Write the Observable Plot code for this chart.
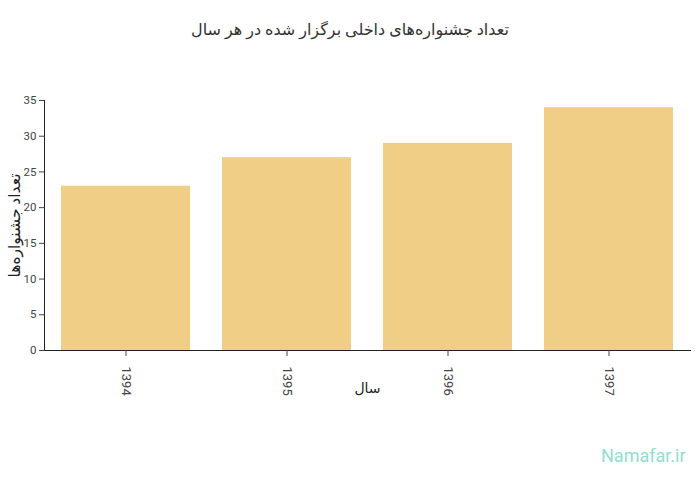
<!DOCTYPE html>
<html>
<head>
<meta charset="utf-8">
<script src="https://cdn.jsdelivr.net/npm/d3@7"></script>
<script src="https://cdn.jsdelivr.net/npm/@observablehq/plot@0.6"></script>
<style>
  body { margin: 0; background: #fff; font-family: Roboto, "DejaVu Sans", sans-serif; }
  #wrap { position: relative; width: 700px; height: 500px; }
  #title { position: absolute; top: 20px; left: 0; width: 700px; text-align: center; font-size: 16px; color: #333; direction: rtl; }
  #wm { position: absolute; left: 601px; top: 445px; font-size: 18px; color: #8fe0d1; font-family: Roboto, sans-serif; }
</style>
</head>
<body>
<div id="wrap">
  <div id="title">تعداد جشنواره‌های داخلی برگزار شده در هر سال</div>
  <div id="chart"></div>
  <div id="wm">Namafar.ir</div>
</div>
<script>
const years = ["1394", "1395", "1396", "1397"];
const counts = [23, 27, 29, 34];
const yTicks = [0, 5, 10, 15, 20, 25, 30, 35];
const xLabel = "سال";
const yLabel = "تعداد جشنواره‌ها";

const data = years.map((y, i) => ({year: y, count: counts[i]}));

const chart = Plot.plot({
  width: 700,
  height: 500,
  marginTop: 100,
  marginBottom: 150,
  marginLeft: 44,
  marginRight: 10,
  style: {fontFamily: "Roboto, 'DejaVu Sans', sans-serif", fontSize: "11px", color: "#444", background: "transparent"},
  x: {domain: years, paddingInner: 0.2, paddingOuter: 0.1},
  y: {domain: [0, 35]},
  marks: [
    Plot.barY(data, {x: "year", y: "count", fill: "#f0ce86"}),
    Plot.frame({anchor: "left", stroke: "#222"}),
    Plot.frame({anchor: "bottom", stroke: "#222"}),
    Plot.axisY({ticks: yTicks, tickSize: 5, tickPadding: 3, label: yLabel, labelAnchor: "center", labelArrow: "none", labelOffset: 36, fontSize: 11.5, color: "#444"}),
    Plot.axisX({tickSize: 6, tickRotate: 90, tickPadding: 10, fontSize: 13, label: null}),
    Plot.text([xLabel], {frameAnchor: "bottom", dy: 42, fontSize: 14, fill: "#222"})
  ]
});
document.getElementById("chart").appendChild(chart);
chart.querySelectorAll("text").forEach(t => {
  if (t.textContent === yLabel) { t.setAttribute("font-size", "15.5"); t.setAttribute("fill", "#222"); t.setAttribute("font-weight", "normal"); }
});
</script>
</body>
</html>
